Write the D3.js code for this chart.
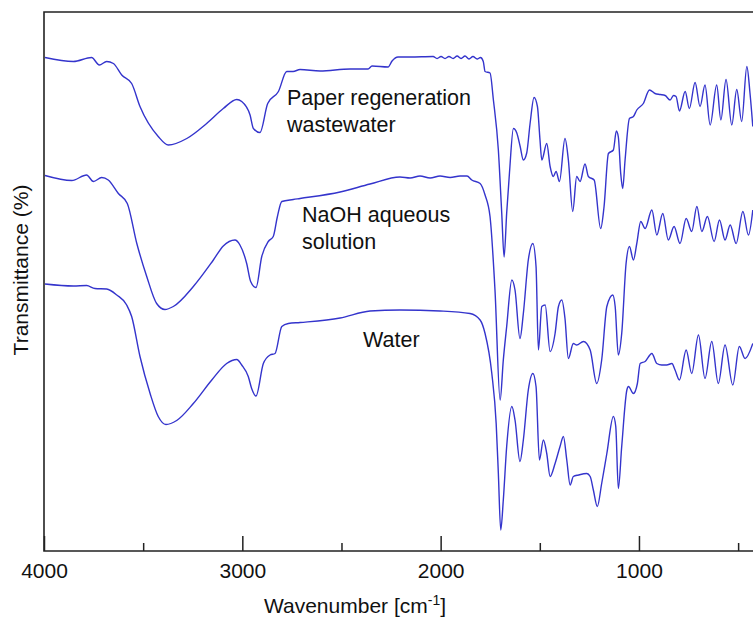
<!DOCTYPE html>
<html>
<head>
<meta charset="utf-8">
<script src="https://cdn.jsdelivr.net/npm/d3@7"></script>
<style>
  html, body { margin: 0; padding: 0; background: #fff; }
  svg text { font-family: "Liberation Sans", Arial, Helvetica, sans-serif; fill: #111; }
</style>
</head>
<body>
<svg id="chart" width="753" height="618"></svg>
<script>
// FTIR spectra: [wavenumber (cm-1), transmittance offset value]
const paperWastewater = [[3995,98.5],[3852,97.7],[3760,98.5],[3721,97.0],[3684,97.7],[3650,97.3],[3608,95.0],[3558,93.3],[3516,88.7],[3424,82.7],[3373,81.0],[3280,82.3],[3180,85.3],[3096,88.3],[3028,90.1],[3003,89.7],[2961,87.0],[2944,84.3],[2911,83.5],[2872,89.3],[2818,91.7],[2776,95.7],[2744,95.7],[2709,96.1],[2608,95.8],[2457,96.2],[2366,96.2],[2346,96.8],[2265,96.6],[2245,97.8],[2215,98.6],[2154,98.6],[2038,98.7],[2018,98.3],[1998,98.7],[1978,98.3],[1958,98.7],[1937,98.3],[1917,98.8],[1897,98.3],[1877,98.8],[1857,98.2],[1837,98.7],[1816,98.2],[1799,98.5],[1785,97.7],[1776,95.7],[1751,95.4],[1734,90.0],[1709,80.0],[1692,67.4],[1680,58.6],[1667,67.4],[1653,75.4],[1633,84.3],[1616,83.4],[1599,80.7],[1583,78.0],[1566,79.4],[1549,85.3],[1529,90.5],[1512,88.7],[1499,82.0],[1490,78.0],[1465,81.3],[1448,76.7],[1432,74.7],[1418,75.7],[1401,73.7],[1373,82.3],[1356,78.0],[1334,67.7],[1314,74.7],[1297,73.7],[1272,77.2],[1255,74.7],[1226,74.0],[1193,64.3],[1176,68.7],[1154,79.3],[1129,80.0],[1114,83.8],[1104,82.6],[1092,75.3],[1082,72.3],[1070,78.0],[1048,86.3],[1028,86.7],[1011,88.0],[978,89.3],[947,92.0],[919,91.3],[893,91.1],[868,90.9],[843,90.0],[826,90.9],[813,90.7],[796,87.8],[767,91.7],[746,88.3],[717,93.5],[692,88.7],[667,93.0],[641,85.0],[608,93.0],[587,86.0],[561,94.1],[532,85.0],[507,92.1],[482,85.7],[456,96.7],[440,91.3],[426,84.7]];

const naohSolution = [[3995,74.9],[3860,73.9],[3785,75.0],[3751,73.7],[3709,74.5],[3676,74.0],[3625,71.3],[3580,69.3],[3532,61.3],[3482,54.7],[3432,49.3],[3390,48.1],[3348,48.7],[3247,52.7],[3146,58.0],[3096,60.8],[3037,62.0],[3012,61.0],[2978,57.3],[2958,53.7],[2931,52.5],[2902,58.7],[2869,61.7],[2844,62.7],[2823,66.7],[2801,69.7],[2743,70.1],[2709,70.3],[2507,71.6],[2356,73.2],[2205,74.6],[2154,74.4],[2104,74.8],[2053,74.4],[2003,74.8],[1952,74.5],[1902,74.8],[1867,74.8],[1843,74.0],[1801,73.3],[1776,71.0],[1751,66.7],[1726,52.0],[1700,30.0],[1684,38.0],[1667,44.7],[1641,54.0],[1625,52.0],[1600,42.3],[1583,47.3],[1558,58.0],[1535,61.3],[1519,56.7],[1507,40.0],[1490,48.7],[1473,49.0],[1448,39.7],[1423,43.3],[1406,48.7],[1389,50.0],[1373,46.3],[1356,38.3],[1331,41.3],[1314,41.0],[1280,41.7],[1246,40.0],[1213,33.3],[1188,38.0],[1162,48.7],[1132,51.0],[1120,48.7],[1104,39.0],[1087,43.3],[1065,57.3],[1048,60.7],[1028,58.0],[1011,61.3],[991,65.7],[969,64.3],[935,68.0],[910,63.0],[880,67.3],[852,62.0],[823,64.7],[793,61.3],[762,66.3],[734,63.7],[708,68.7],[683,63.7],[655,66.7],[621,61.7],[594,66.0],[566,62.0],[540,65.0],[510,61.3],[476,67.7],[448,63.0],[426,68.0]];

const waterOnly = [[3995,53.2],[3852,52.8],[3785,52.9],[3743,52.3],[3684,52.2],[3633,51.0],[3583,49.0],[3558,46.7],[3516,38.7],[3465,31.3],[3424,26.7],[3385,25.1],[3331,25.9],[3247,29.3],[3154,34.0],[3079,37.3],[3028,38.1],[3003,37.0],[2970,34.7],[2953,32.3],[2931,30.8],[2894,37.3],[2860,39.0],[2835,39.3],[2801,44.7],[2768,45.3],[2709,45.5],[2507,46.4],[2356,47.8],[2205,48.0],[2003,47.8],[1852,47.3],[1801,46.0],[1776,43.3],[1742,35.3],[1720,25.3],[1709,15.3],[1697,4.0],[1684,10.0],[1667,20.7],[1641,28.7],[1625,26.0],[1600,17.7],[1583,22.0],[1558,32.0],[1535,35.3],[1519,32.7],[1502,18.0],[1482,22.0],[1465,19.3],[1448,14.7],[1423,17.3],[1398,20.7],[1381,22.7],[1364,18.0],[1347,13.0],[1331,14.7],[1305,15.0],[1263,15.3],[1246,14.7],[1230,12.0],[1210,8.7],[1188,13.3],[1162,19.3],[1129,26.7],[1117,24.7],[1104,12.3],[1087,20.7],[1061,32.0],[1053,32.7],[1028,31.3],[1008,33.3],[994,37.3],[969,37.7],[935,39.3],[910,37.3],[885,37.0],[860,37.0],[834,37.3],[818,36.0],[796,34.0],[762,40.0],[734,35.3],[700,43.0],[667,34.3],[633,41.7],[600,33.3],[566,41.0],[527,33.0],[494,40.7],[465,38.3],[426,41.3]];

const majorTicks = [4000, 3000, 2000, 1000];
const minorTicks = [3500, 2500, 1500, 500];

const seriesLabels = [
  { lines: ["Paper regeneration", "wastewater"], wn: 2775, val: 89 },
  { lines: ["NaOH aqueous", "solution"], wn: 2699, val: 65.6 },
  { lines: ["Water"], wn: 2391, val: 40.6 }
];

const svg = d3.select("#chart");
const W = 753, H = 618;
const plotLeft = 44, plotTop = 12, plotBottom = 551;

const x = d3.scaleLinear().domain([4000, 425]).range([plotLeft, W]);
const y = d3.scaleLinear().domain([0, 100]).range([550, 50]);

const line = d3.line()
  .x(d => x(d[0]))
  .y(d => y(d[1]))
  .curve(d3.curveMonotoneX);

svg.append("defs").append("clipPath").attr("id", "plot-clip")
  .append("rect").attr("x", plotLeft).attr("y", plotTop)
  .attr("width", W - plotLeft).attr("height", plotBottom - plotTop);

const plot = svg.append("g").attr("clip-path", "url(#plot-clip)");
[paperWastewater, naohSolution, waterOnly].forEach(s => {
  plot.append("path")
    .datum(s)
    .attr("d", line)
    .attr("fill", "none")
    .attr("stroke", "#3434cc")
    .attr("stroke-width", 1.4)
    .attr("stroke-linejoin", "round");
});

// axis ticks (inward)
const fontSize = 21;
const gMajor = svg.append("g").attr("transform", `translate(0,${plotBottom})`)
  .call(d3.axisBottom(x).tickValues(majorTicks).tickSize(-15).tickSizeOuter(0).tickPadding(12).tickFormat(d3.format("d")));
gMajor.select(".domain").remove();
gMajor.selectAll("line").attr("stroke", "#222").attr("stroke-width", 1.5);
gMajor.selectAll("text").attr("font-size", fontSize).attr("fill", "#111")
  .style("font-family", '"Liberation Sans", Arial, sans-serif');

const gMinor = svg.append("g").attr("transform", `translate(0,${plotBottom})`)
  .call(d3.axisBottom(x).tickValues(minorTicks).tickSize(-8).tickSizeOuter(0).tickFormat(""));
gMinor.select(".domain").remove();
gMinor.selectAll("line").attr("stroke", "#222").attr("stroke-width", 1.5);

// frame: top, left and bottom edges
svg.append("path")
  .attr("d", `M${W},${plotTop}H${plotLeft}V${plotBottom}H${W}`)
  .attr("fill", "none")
  .attr("stroke", "#222")
  .attr("stroke-width", 1.6);

// axis titles
const xTitle = svg.append("text")
  .attr("x", 355).attr("y", 613)
  .attr("text-anchor", "middle")
  .attr("font-size", fontSize);
xTitle.append("tspan").text("Wavenumber [cm");
xTitle.append("tspan").attr("dy", -8).attr("font-size", 14).text("-1");
xTitle.append("tspan").attr("dy", 8).text("]");

svg.append("text")
  .attr("transform", `translate(28,270) rotate(-90)`)
  .attr("text-anchor", "middle")
  .attr("font-size", fontSize)
  .text("Transmittance (%)");

// series annotations
seriesLabels.forEach(lbl => {
  const t = svg.append("text")
    .attr("x", x(lbl.wn)).attr("y", y(lbl.val))
    .attr("font-size", 21.5);
  lbl.lines.forEach((ln, i) => {
    t.append("tspan").attr("x", x(lbl.wn)).attr("dy", i === 0 ? 0 : 27).text(ln);
  });
});
</script>
</body>
</html>
